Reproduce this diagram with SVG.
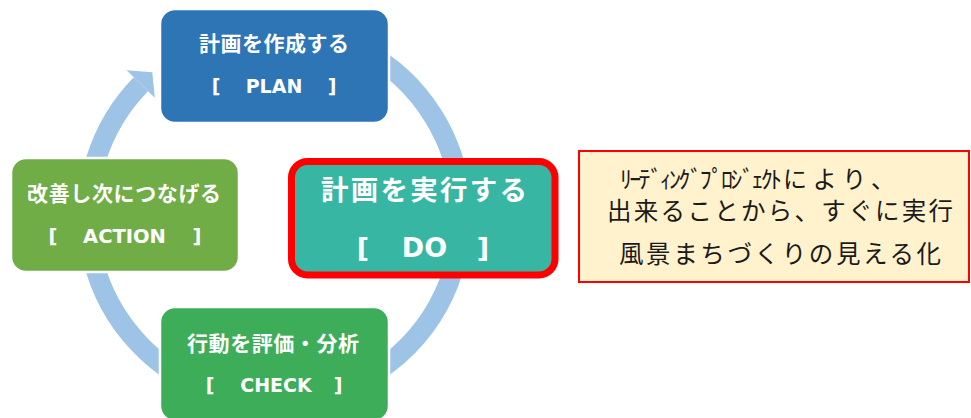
<svg xmlns="http://www.w3.org/2000/svg" width="971" height="418" viewBox="0 0 971 418">
<style>
.box{stroke:#fff;stroke-width:2.5}
.jp{font-family:"Noto Sans CJK JP","Noto Sans CJK SC",sans-serif;font-weight:bold;fill:#fff}
.en{font-family:"DejaVu Sans",sans-serif;font-weight:bold;fill:#fff;text-anchor:middle}
.note{font-family:"Noto Sans CJK JP","Noto Sans CJK SC",sans-serif;font-weight:normal;fill:#1a1a1a}
</style>
<rect width="971" height="418" fill="#fff"/>
<g id="connectors">
<path d="M181.0,53.06 A187,187 0 1 1 140.9,84.2" fill="none" stroke="#9DC3E6" stroke-width="20"/>
<polygon points="126.6,70.2 152.3,72.3 154.8,97.8" fill="#9DC3E6"/>
</g>
<g id="plan">
<rect class="box" x="160" y="9" width="229" height="114" rx="15" fill="#2E75B6"/>
<text class="jp" x="199" y="51" font-size="21" textLength="150" lengthAdjust="spacing">計画を作成する</text>
<text class="en" y="93" font-size="19"><tspan x="216">[</tspan><tspan x="274">PLAN</tspan><tspan x="332">]</tspan></text>
</g>
<g id="do">
<rect x="291.5" y="161.5" width="263.5" height="113.5" rx="16" fill="#38B6A4" stroke="#FF0000" stroke-width="7"/>
<text class="jp" x="321" y="200" font-size="27.5" textLength="206" lengthAdjust="spacing">計画を実行する</text>
<text class="en" y="257" font-size="27"><tspan x="363">[</tspan><tspan x="424.5">DO</tspan><tspan x="483">]</tspan></text>
</g>
<g id="check">
<rect class="box" x="160" y="307" width="229" height="114" rx="15" fill="#3DAD5A"/>
<text class="jp" x="187" y="351" font-size="21" textLength="172" lengthAdjust="spacing">行動を評価・分析</text>
<text class="en" y="392" font-size="19"><tspan x="210">[</tspan><tspan x="276">CHECK</tspan><tspan x="338">]</tspan></text>
</g>
<g id="action">
<rect class="box" x="11" y="158" width="228" height="114" rx="15" fill="#70AD47"/>
<text class="jp" x="27" y="201" font-size="21" textLength="194" lengthAdjust="spacing">改善し次につなげる</text>
<text class="en" y="243" font-size="19.5"><tspan x="53">[</tspan><tspan x="124.5">ACTION</tspan><tspan x="197">]</tspan></text>
</g>
<g id="note">
<rect x="579" y="151" width="390" height="131" fill="#FFF2CC" stroke="#FF0000" stroke-width="2"/>
<text class="note" y="188" font-size="24"><tspan x="620" textLength="162" lengthAdjust="spacing">ﾘｰﾃﾞｨﾝｸﾞﾌﾟﾛｼﾞｪｸﾄ</tspan><tspan x="783" textLength="112" lengthAdjust="spacing">により、</tspan></text>
<text class="note" x="607" y="220" font-size="24.5" textLength="346" lengthAdjust="spacing">出来ることから、すぐに実行</text>
<text class="note" x="619" y="263" font-size="24.5" textLength="322" lengthAdjust="spacing">風景まちづくりの見える化</text>
</g>
</svg>
